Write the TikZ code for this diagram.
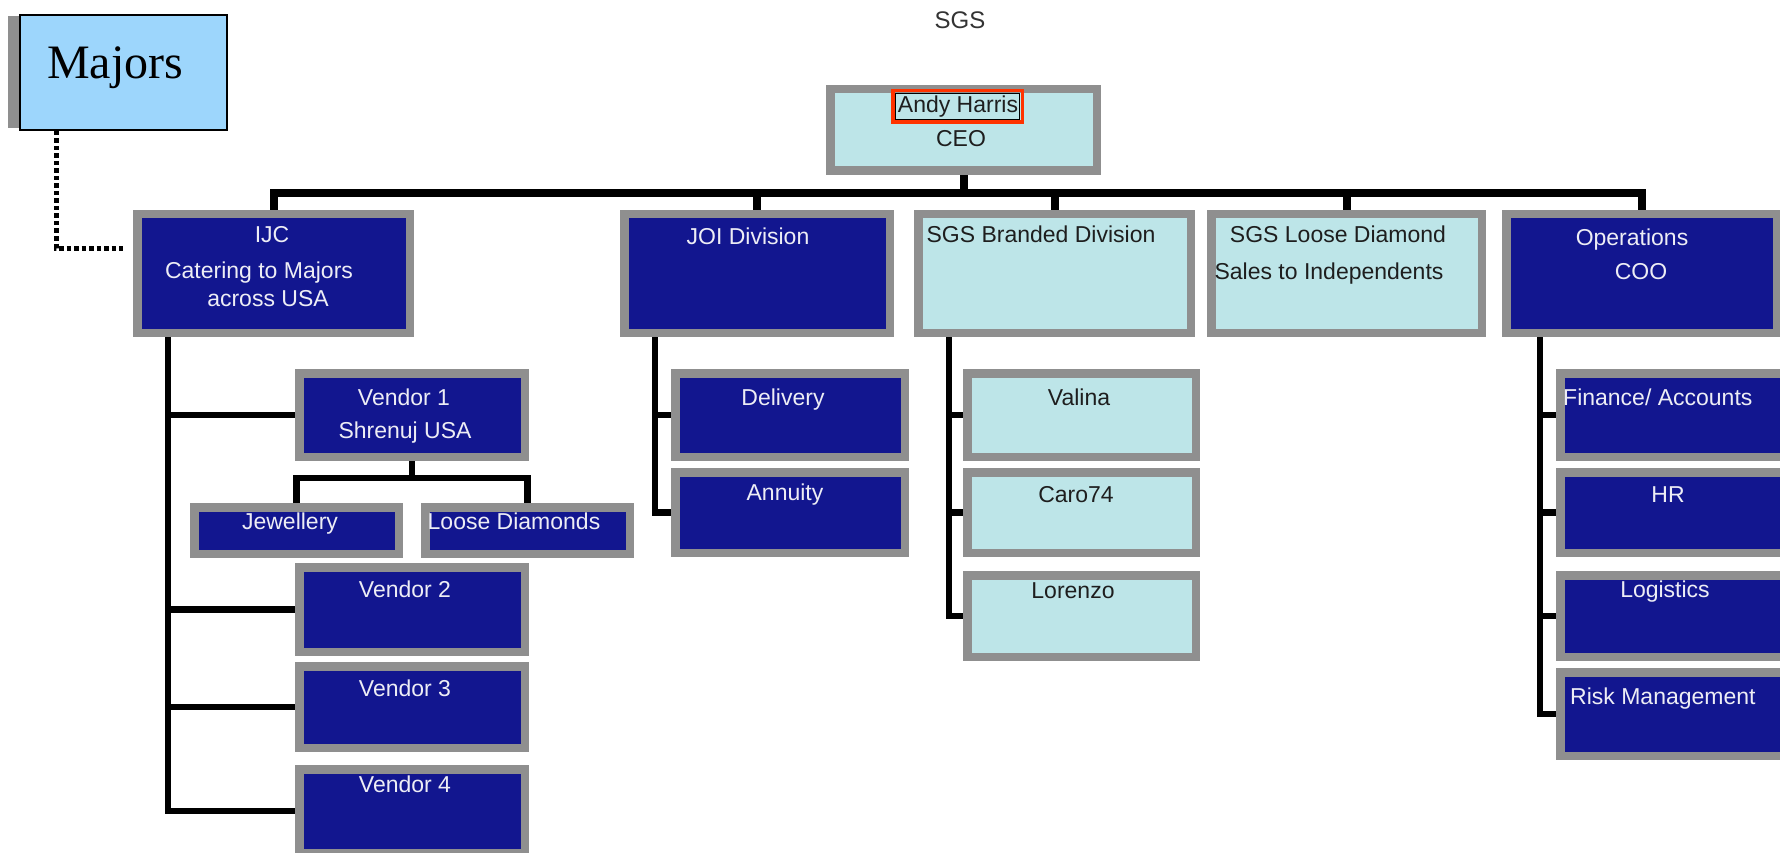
\documentclass[tikz,border=0pt]{standalone}
\usepackage{fontspec}
\setmainfont{Liberation Sans}
\newfontfamily\majfont{Liberation Serif}
\usetikzlibrary{calc}
\definecolor{navy}{HTML}{12168F}
\definecolor{pale}{HTML}{BDE5E8}
\definecolor{frame}{HTML}{8F8F8F}
\definecolor{sky}{HTML}{9DD6FC}
\definecolor{redb}{HTML}{FF3300}
\definecolor{wtxt}{HTML}{EDEDF5}
\definecolor{dtxt}{HTML}{1E1E1E}
\begin{document}
\begin{tikzpicture}[x=1pt,y=-1pt,
  dbox/.style={draw=frame,line width=8.5pt,fill=navy,inner sep=0pt},
  lbox/.style={draw=frame,line width=8.5pt,fill=pale,inner sep=0pt},
  wt/.style={text=wtxt,font=\fontsize{23pt}{27pt}\selectfont,inner sep=0pt,anchor=base},
  dt/.style={text=dtxt,font=\fontsize{23pt}{27pt}\selectfont,inner sep=0pt,anchor=base},
  conn/.style={line width=6.5pt,black},
  bus/.style={line width=8pt,black},
  dotline/.style={line width=5pt,black,dash pattern=on 4.5pt off 3pt}]
\useasboundingbox[fill=white] (0,0) rectangle (1780,853);

% title
\node[dt,font=\fontsize{24pt}{28pt}\selectfont,text=black!80] (title) at (960,29) {SGS};

% Majors
\fill[frame] (8,16) rectangle (120,128);
\node[draw=black,line width=2pt,fill=sky,minimum width=207pt,minimum height=115pt,inner sep=0pt] (majors) at (123.5,72.5) {};
\node[inner sep=0pt,anchor=base west,font=\majfont\fontsize{48pt}{52pt}\selectfont] (tmaj) at (47,79) {Majors};

% CEO
\node[lbox,minimum width=266.5pt,minimum height=81.5pt] (ceo) at (963.5,130) {};
\node[draw=redb,line width=3.5pt,minimum width=129.5pt,minimum height=31.5pt,inner sep=0pt] (ahbox) at (957.5,106.5) {};
\draw[black,line width=1.2pt] ($(ahbox.north west)+(4.2,4.2)$) rectangle ($(ahbox.south east)+(-4.2,-4.2)$);
\node[dt] (tah) at (958,113) {Andy Harris};
\node[dt] (tceo) at (961,147) {CEO};

% level 1
\node[dbox,minimum width=272.5pt,minimum height=118.5pt] (ijc) at (273.5,273.5) {};
\node[dbox,minimum width=265.5pt,minimum height=118.5pt] (joi) at (757,273.5) {};
\node[lbox,minimum width=272.5pt,minimum height=118.5pt] (sgsb) at (1054.5,273.5) {};
\node[lbox,minimum width=270.5pt,minimum height=118.5pt] (sgsl) at (1346.5,273.5) {};
\node[dbox,minimum width=270.5pt,minimum height=118.5pt] (ops) at (1641.5,273.5) {};

% IJC subtree
\node[dbox,minimum width=225.5pt,minimum height=83.5pt] (v1) at (412,415) {};
\node[dbox,minimum width=204.5pt,minimum height=46.5pt] (jew) at (296.5,530.5) {};
\node[dbox,minimum width=204.5pt,minimum height=46.5pt] (loose) at (527.5,530.5) {};
\node[dbox,minimum width=225.5pt,minimum height=84.5pt] (v2) at (412,609.5) {};
\node[dbox,minimum width=225.5pt,minimum height=81.5pt] (v3) at (412,707) {};
\node[dbox,minimum width=225.5pt,minimum height=83.5pt] (v4) at (412,811) {};

% JOI subtree
\node[dbox,minimum width=229.5pt,minimum height=83.5pt] (del) at (790,415) {};
\node[dbox,minimum width=229.5pt,minimum height=80.5pt] (ann) at (790,512.5) {};

% SGS branded subtree
\node[lbox,minimum width=228.5pt,minimum height=83.5pt] (val) at (1081.5,415) {};
\node[lbox,minimum width=228.5pt,minimum height=80.5pt] (caro) at (1081.5,512.5) {};
\node[lbox,minimum width=228.5pt,minimum height=81.5pt] (lor) at (1081.5,616) {};

% Operations subtree
\node[dbox,minimum width=229.5pt,minimum height=83.5pt] (fin) at (1675,415) {};
\node[dbox,minimum width=229.5pt,minimum height=80.5pt] (hr) at (1675,512.5) {};
\node[dbox,minimum width=229.5pt,minimum height=81.5pt] (logi) at (1675,616) {};
\node[dbox,minimum width=229.5pt,minimum height=83.5pt] (risk) at (1675,714) {};

% connectors
\coordinate (busy) at (0,193);
\draw[bus] (ijc.north) |- (ops.north |- busy) -- (ops.north);
\foreach \n in {ceo.south,joi.north,sgsb.north,sgsl.north}
  \draw[bus] (\n) -- (\n |- busy);

\coordinate (ijcv) at ($(ijc.south west)+(35,0)$);
\draw[conn] (ijcv) |- (v4.west);
\foreach \v in {v1,v2,v3} \draw[conn] (ijcv |- \v.west) -- (\v.west);

\coordinate (subbus) at (0,478);
\draw[conn] (v1.south) -- (v1.south |- subbus);
\draw[conn] (jew.north) |- (loose.north |- subbus) -- (loose.north);

\coordinate (joiv) at ($(joi.south west)+(35,0)$);
\draw[conn] (joiv) |- (ann.west);
\draw[conn] (joiv |- del.west) -- (del.west);

\coordinate (sgsv) at ($(sgsb.south west)+(35,0)$);
\draw[conn] (sgsv) |- (lor.west);
\foreach \v in {val,caro} \draw[conn] (sgsv |- \v.west) -- (\v.west);

\coordinate (opsv) at ($(ops.south west)+(38,0)$);
\draw[conn] (opsv) |- (risk.west);
\foreach \v in {fin,hr,logi} \draw[conn] (opsv |- \v.west) -- (\v.west);

\coordinate (mjend) at (123,248);
\draw[dotline] ($(majors.south west)+(37,0)$) |- (mjend);

% texts
\node[wt] (tijc1) at (272,243) {IJC};
\node[wt] (tijc2) at (259,278) {Catering to Majors};
\node[wt] (tijc3) at (268,306) {across USA};
\node[wt] (tjoi) at (748,244) {JOI Division};
\node[dt] (tsgsb) at (1041,243) {SGS Branded Division};
\node[dt] (tsgsl1) at (1338,243) {SGS Loose Diamond};
\node[dt] (tsgsl2) at (1329,279) {Sales to Independents};
\node[wt] (tops1) at (1632,245) {Operations};
\node[wt] (tops2) at (1641,279) {COO};
\node[wt] (tv1a) at (404,405) {Vendor 1};
\node[wt] (tv1b) at (405,438) {Shrenuj USA};
\node[wt] (tjew) at (290,529) {Jewellery};
\node[wt] (tloose) at (514,529) {Loose Diamonds};
\node[wt] (tv2) at (405,597) {Vendor 2};
\node[wt] (tv3) at (405,696) {Vendor 3};
\node[wt] (tv4) at (405,792) {Vendor 4};
\node[wt] (tdel) at (783,405) {Delivery};
\node[wt] (tann) at (785,500) {Annuity};
\node[dt] (tval) at (1079,405) {Valina};
\node[dt] (tcaro) at (1076,502) {Caro74};
\node[dt] (tlor) at (1073,598) {Lorenzo};
\node[wt,anchor=base west] (tfin) at (1563,405) {Finance/ Accounts};
\node[wt] (thr) at (1668,502) {HR};
\node[wt] (tlog) at (1665,597) {Logistics};
\node[wt,anchor=base west] (trisk) at (1570,704) {Risk Management};
\end{tikzpicture}
\end{document}
